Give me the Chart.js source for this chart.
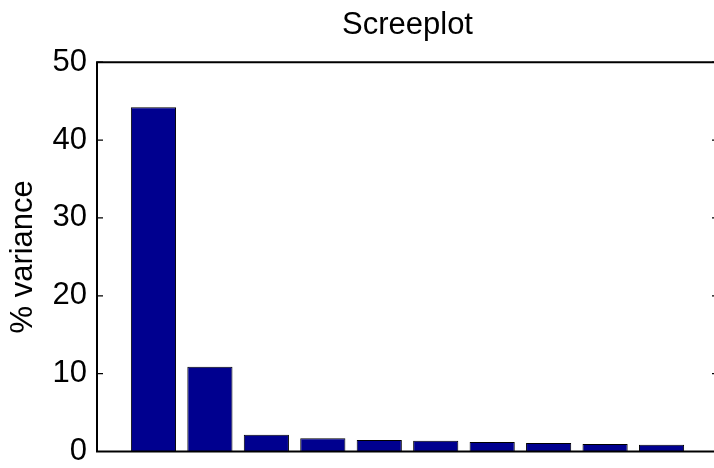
<!DOCTYPE html>
<html>
<head>
<meta charset="utf-8">
<script src="https://cdn.jsdelivr.net/npm/chart.js@4.4.0/dist/chart.umd.min.js"></script>
<style>
  html, body { margin: 0; padding: 0; background: #fff; overflow: hidden; width: 714px; height: 468px; }
  #wrap { width: 740px; height: 468px; }
</style>
</head>
<body>
<div id="wrap"><canvas id="c" width="740" height="468"></canvas></div>
<script>
const components = [1, 2, 3, 4, 5, 6, 7, 8, 9, 10];
const variancePct = [44.2, 10.9, 2.15, 1.69, 1.47, 1.38, 1.22, 1.09, 0.96, 0.87];
const yTicks = [0, 10, 20, 30, 40, 50];
const titleText = 'Screeplot';
const yLabel = '% variance';

const FONT = "'Liberation Sans', Arial, Helvetica, sans-serif";

const frame = {
  id: 'frame',
  afterDatasetsDraw(chart) {
    const ctx = chart.ctx;
    const a = chart.chartArea;
    const y = chart.scales.y;
    ctx.save();
    ctx.strokeStyle = '#000';
    ctx.lineWidth = 2;
    ctx.beginPath();
    ctx.rect(a.left, a.top, a.right - a.left, a.bottom - a.top);
    ctx.stroke();
    ctx.lineWidth = 1.2;
    const tl = 6;
    yTicks.forEach(v => {
      const py = y.getPixelForValue(v);
      ctx.beginPath();
      ctx.moveTo(a.left, py); ctx.lineTo(a.left + tl, py);
      ctx.moveTo(a.right, py); ctx.lineTo(a.right - tl, py);
      ctx.stroke();
    });
    ctx.restore();
  }
};

new Chart(document.getElementById('c'), {
  type: 'bar',
  data: {
    datasets: [{
      data: components.map((c, i) => ({ x: c, y: variancePct[i] })),
      backgroundColor: '#00008F',
      borderColor: '#000',
      borderWidth: 1,
      barPercentage: 0.8,
      categoryPercentage: 1.0
    }]
  },
  options: {
    responsive: false,
    animation: false,
    layout: { padding: { left: 0, right: 22, top: 0, bottom: 0 } },
    plugins: {
      legend: { display: false },
      tooltip: { enabled: false },
      title: {
        display: true,
        fullSize: false,
        text: titleText,
        color: '#000',
        font: { family: FONT, size: 31, weight: 'normal' },
        padding: { top: 7, bottom: 18 }
      }
    },
    scales: {
      x: {
        type: 'linear',
        min: 0, max: 11,
        offset: false,
        grid: { display: false, drawTicks: false, offset: false },
        border: { display: false },
        ticks: { display: false },
        afterFit(s) { s.height = 16.5; }
      },
      y: {
        min: 0, max: 50,
        afterBuildTicks(s) { s.ticks = yTicks.map(v => ({ value: v })); },
        grid: { display: false, drawTicks: false },
        border: { display: false },
        ticks: {
          color: '#000',
          padding: 10,
          font: { family: FONT, size: 31 }
        },
        title: {
          display: true,
          text: yLabel,
          color: '#000',
          font: { family: FONT, size: 31 },
          padding: { top: 5, bottom: 0 }
        },
        afterFit(s) { s.width = 97; s.paddingTop = 0; s.paddingBottom = 0; }
      }
    }
  },
  plugins: [frame]
});
</script>
</body>
</html>
